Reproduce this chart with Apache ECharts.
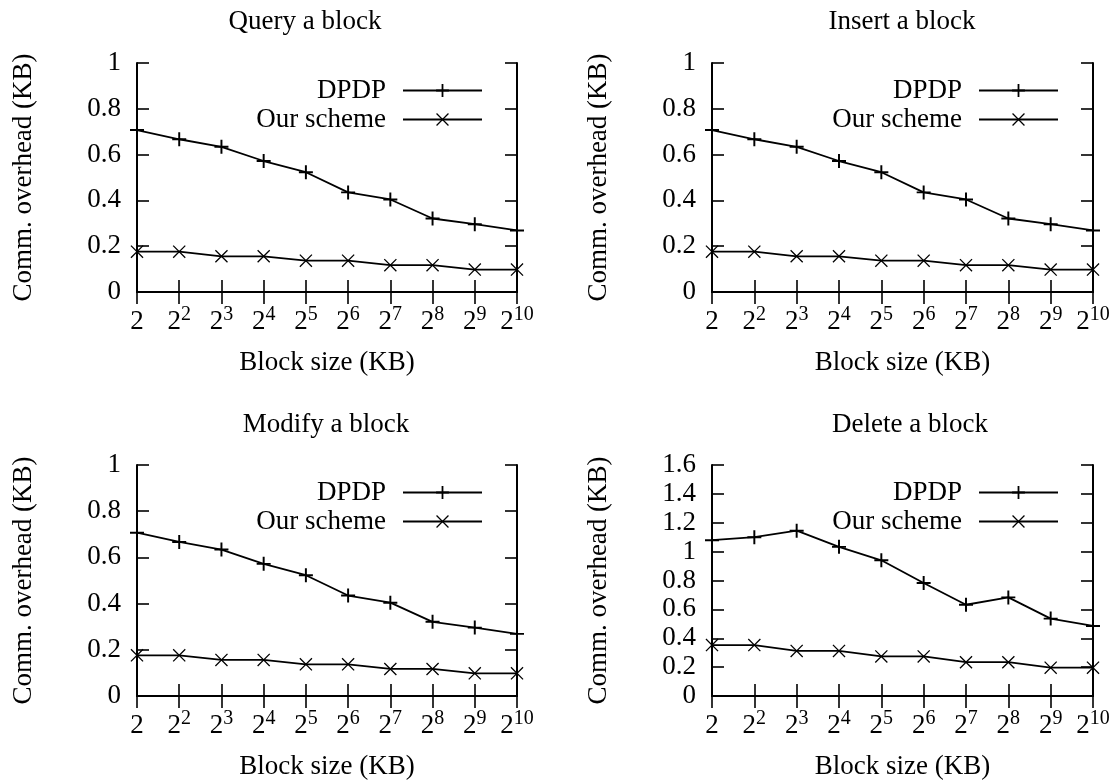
<!DOCTYPE html>
<html>
<head>
<meta charset="utf-8">
<title>Comm. overhead</title>
<script src="https://cdn.jsdelivr.net/npm/echarts@6/dist/echarts.min.js"></script>
<style>
html, body { margin: 0; padding: 0; background: #fff; }
#chart { width: 1114px; height: 783px; }
</style>
</head>
<body>
<div id="chart"></div>
<script>
// block size (KB), written as base^exponent
var blockSizes = ['2', '2^2', '2^3', '2^4', '2^5', '2^6', '2^7', '2^8', '2^9', '2^10'];

// comm. overhead (KB)
var queryDpdp  = [0.707, 0.667, 0.634, 0.572, 0.523, 0.435, 0.404, 0.321, 0.296, 0.269];
var queryOurs  = [0.176, 0.176, 0.156, 0.156, 0.137, 0.137, 0.117, 0.117, 0.098, 0.098];
var insertDpdp = [0.707, 0.667, 0.634, 0.572, 0.523, 0.435, 0.404, 0.321, 0.296, 0.269];
var insertOurs = [0.176, 0.176, 0.156, 0.156, 0.137, 0.137, 0.117, 0.117, 0.098, 0.098];
var modifyDpdp = [0.707, 0.667, 0.634, 0.572, 0.523, 0.435, 0.404, 0.321, 0.296, 0.269];
var modifyOurs = [0.176, 0.176, 0.156, 0.156, 0.137, 0.137, 0.117, 0.117, 0.098, 0.098];
var deleteDpdp = [1.079, 1.100, 1.145, 1.033, 0.940, 0.783, 0.632, 0.683, 0.536, 0.485];
var deleteOurs = [0.353, 0.353, 0.312, 0.312, 0.274, 0.274, 0.234, 0.234, 0.196, 0.196];

// y axis ranges
var yMaxSmall = 1;
var yMaxDelete = 1.6;
var yStep = 0.2;

var FONT = '"Liberation Serif", "Times New Roman", serif';
var FS = 27;
// gnuplot style point types: + and x
var PLUS = 'path://M4.3,0L5.7,0L5.7,10L4.3,10Z M0,4.3L10,4.3L10,5.7L0,5.7Z';
var CROSS = 'path://M0,0.7L0.7,0L10,9.3L9.3,10Z M0,9.3L9.3,0L10,0.7L0.7,10Z';

var panels = [
    {title: 'Query a block',  tx: 305, ty: 8,   grid: {left: 137, top: 63,  width: 380, height: 229}, lr: 631, lt: 77,  yMax: yMaxSmall,  dpdp: queryDpdp,  ours: queryOurs},
    {title: 'Insert a block', tx: 902, ty: 8,   grid: {left: 712, top: 63,  width: 381, height: 229}, lr: 55,  lt: 77,  yMax: yMaxSmall,  dpdp: insertDpdp, ours: insertOurs},
    {title: 'Modify a block', tx: 326, ty: 411, grid: {left: 137, top: 465, width: 380, height: 231}, lr: 631, lt: 479, yMax: yMaxSmall,  dpdp: modifyDpdp, ours: modifyOurs},
    {title: 'Delete a block', tx: 910, ty: 411, grid: {left: 712, top: 465, width: 381, height: 231}, lr: 55,  lt: 479, yMax: yMaxDelete, dpdp: deleteDpdp, ours: deleteOurs}
];

function sizeLabel(v) {
    var p = v.split('^');
    if (p.length == 1) return '{b|' + p[0] + '}';
    return '{b|' + p[0] + '}{s|' + p[1] + '}';
}

var blackLine = {color: '#000', width: 2};
var tick = {show: true, inside: true, length: 12, lineStyle: {color: '#000', width: 1.6}};

var option = {
    animation: false,
    backgroundColor: '#fff',
    title: [], legend: [], grid: [], xAxis: [], yAxis: [], series: []
};

for (var i = 0; i < panels.length; i++) {
    var p = panels[i];
    option.title.push({
        text: p.title, left: p.tx, top: p.ty, textAlign: 'center', padding: 0,
        textStyle: {fontFamily: FONT, fontSize: FS, fontWeight: 'normal', color: '#000'}
    });
    option.grid.push(p.grid);
    // bottom axis with labels, top axis only for the mirrored ticks
    option.xAxis.push({
        gridIndex: i, type: 'category', data: blockSizes, boundaryGap: false, position: 'bottom',
        name: 'Block size (KB)', nameLocation: 'middle', nameGap: 57,
        nameTextStyle: {fontFamily: FONT, fontSize: FS, color: '#000'},
        axisLine: {show: true, lineStyle: blackLine},
        axisTick: {show: true, inside: true, length: 12, interval: 0, lineStyle: {color: '#000', width: 1.6}},
        axisLabel: {
            interval: 0, margin: 13, formatter: sizeLabel,
            rich: {
                b: {fontFamily: FONT, fontSize: FS, color: '#000', lineHeight: 30, verticalAlign: 'bottom'},
                s: {fontFamily: FONT, fontSize: 20, color: '#000', lineHeight: 20, verticalAlign: 'top'}
            }
        }
    });
    option.xAxis.push({
        gridIndex: i, type: 'category', data: blockSizes, boundaryGap: false, position: 'top',
        axisLine: {show: true, lineStyle: blackLine},
        axisTick: {show: true, inside: true, length: 12, interval: 0, lineStyle: {color: '#000', width: 1.6}},
        axisLabel: {show: false}
    });
    option.yAxis.push({
        gridIndex: i, type: 'value', min: 0, max: p.yMax, interval: yStep, position: 'left',
        name: 'Comm. overhead (KB)', nameLocation: 'middle', nameGap: 100, nameRotate: 90,
        nameTextStyle: {fontFamily: FONT, fontSize: FS, color: '#000'},
        axisLine: {show: true, lineStyle: blackLine},
        axisTick: tick,
        splitLine: {show: false},
        axisLabel: {margin: 16, fontFamily: FONT, fontSize: FS, color: '#000'}
    });
    option.yAxis.push({
        gridIndex: i, type: 'value', min: 0, max: p.yMax, interval: yStep, position: 'right',
        axisLine: {show: true, lineStyle: blackLine},
        axisTick: tick,
        splitLine: {show: false},
        axisLabel: {show: false}
    });
    option.legend.push({
        orient: 'vertical', align: 'right', right: p.lr, top: p.lt, padding: 0,
        itemWidth: 79, itemHeight: 16, itemGap: 2, selectedMode: false,
        textStyle: {fontFamily: FONT, fontSize: FS, color: '#000', lineHeight: 26, padding: [0, 12, 0, 0]},
        data: ['DPDP', 'Our scheme']
    });
    option.series.push({
        type: 'line', name: 'DPDP', xAxisIndex: 2 * i, yAxisIndex: 2 * i, data: p.dpdp,
        symbol: PLUS, symbolSize: 14, showAllSymbol: true,
        lineStyle: {color: '#000', width: 1.8}, itemStyle: {color: '#000'},
        emphasis: {disabled: true}
    });
    option.series.push({
        type: 'line', name: 'Our scheme', xAxisIndex: 2 * i, yAxisIndex: 2 * i, data: p.ours,
        symbol: CROSS, symbolSize: 13, showAllSymbol: true,
        lineStyle: {color: '#000', width: 1.8}, itemStyle: {color: '#000'},
        emphasis: {disabled: true}
    });
}

var myChart = echarts.init(document.getElementById('chart'));
myChart.setOption(option);
</script>
</body>
</html>
